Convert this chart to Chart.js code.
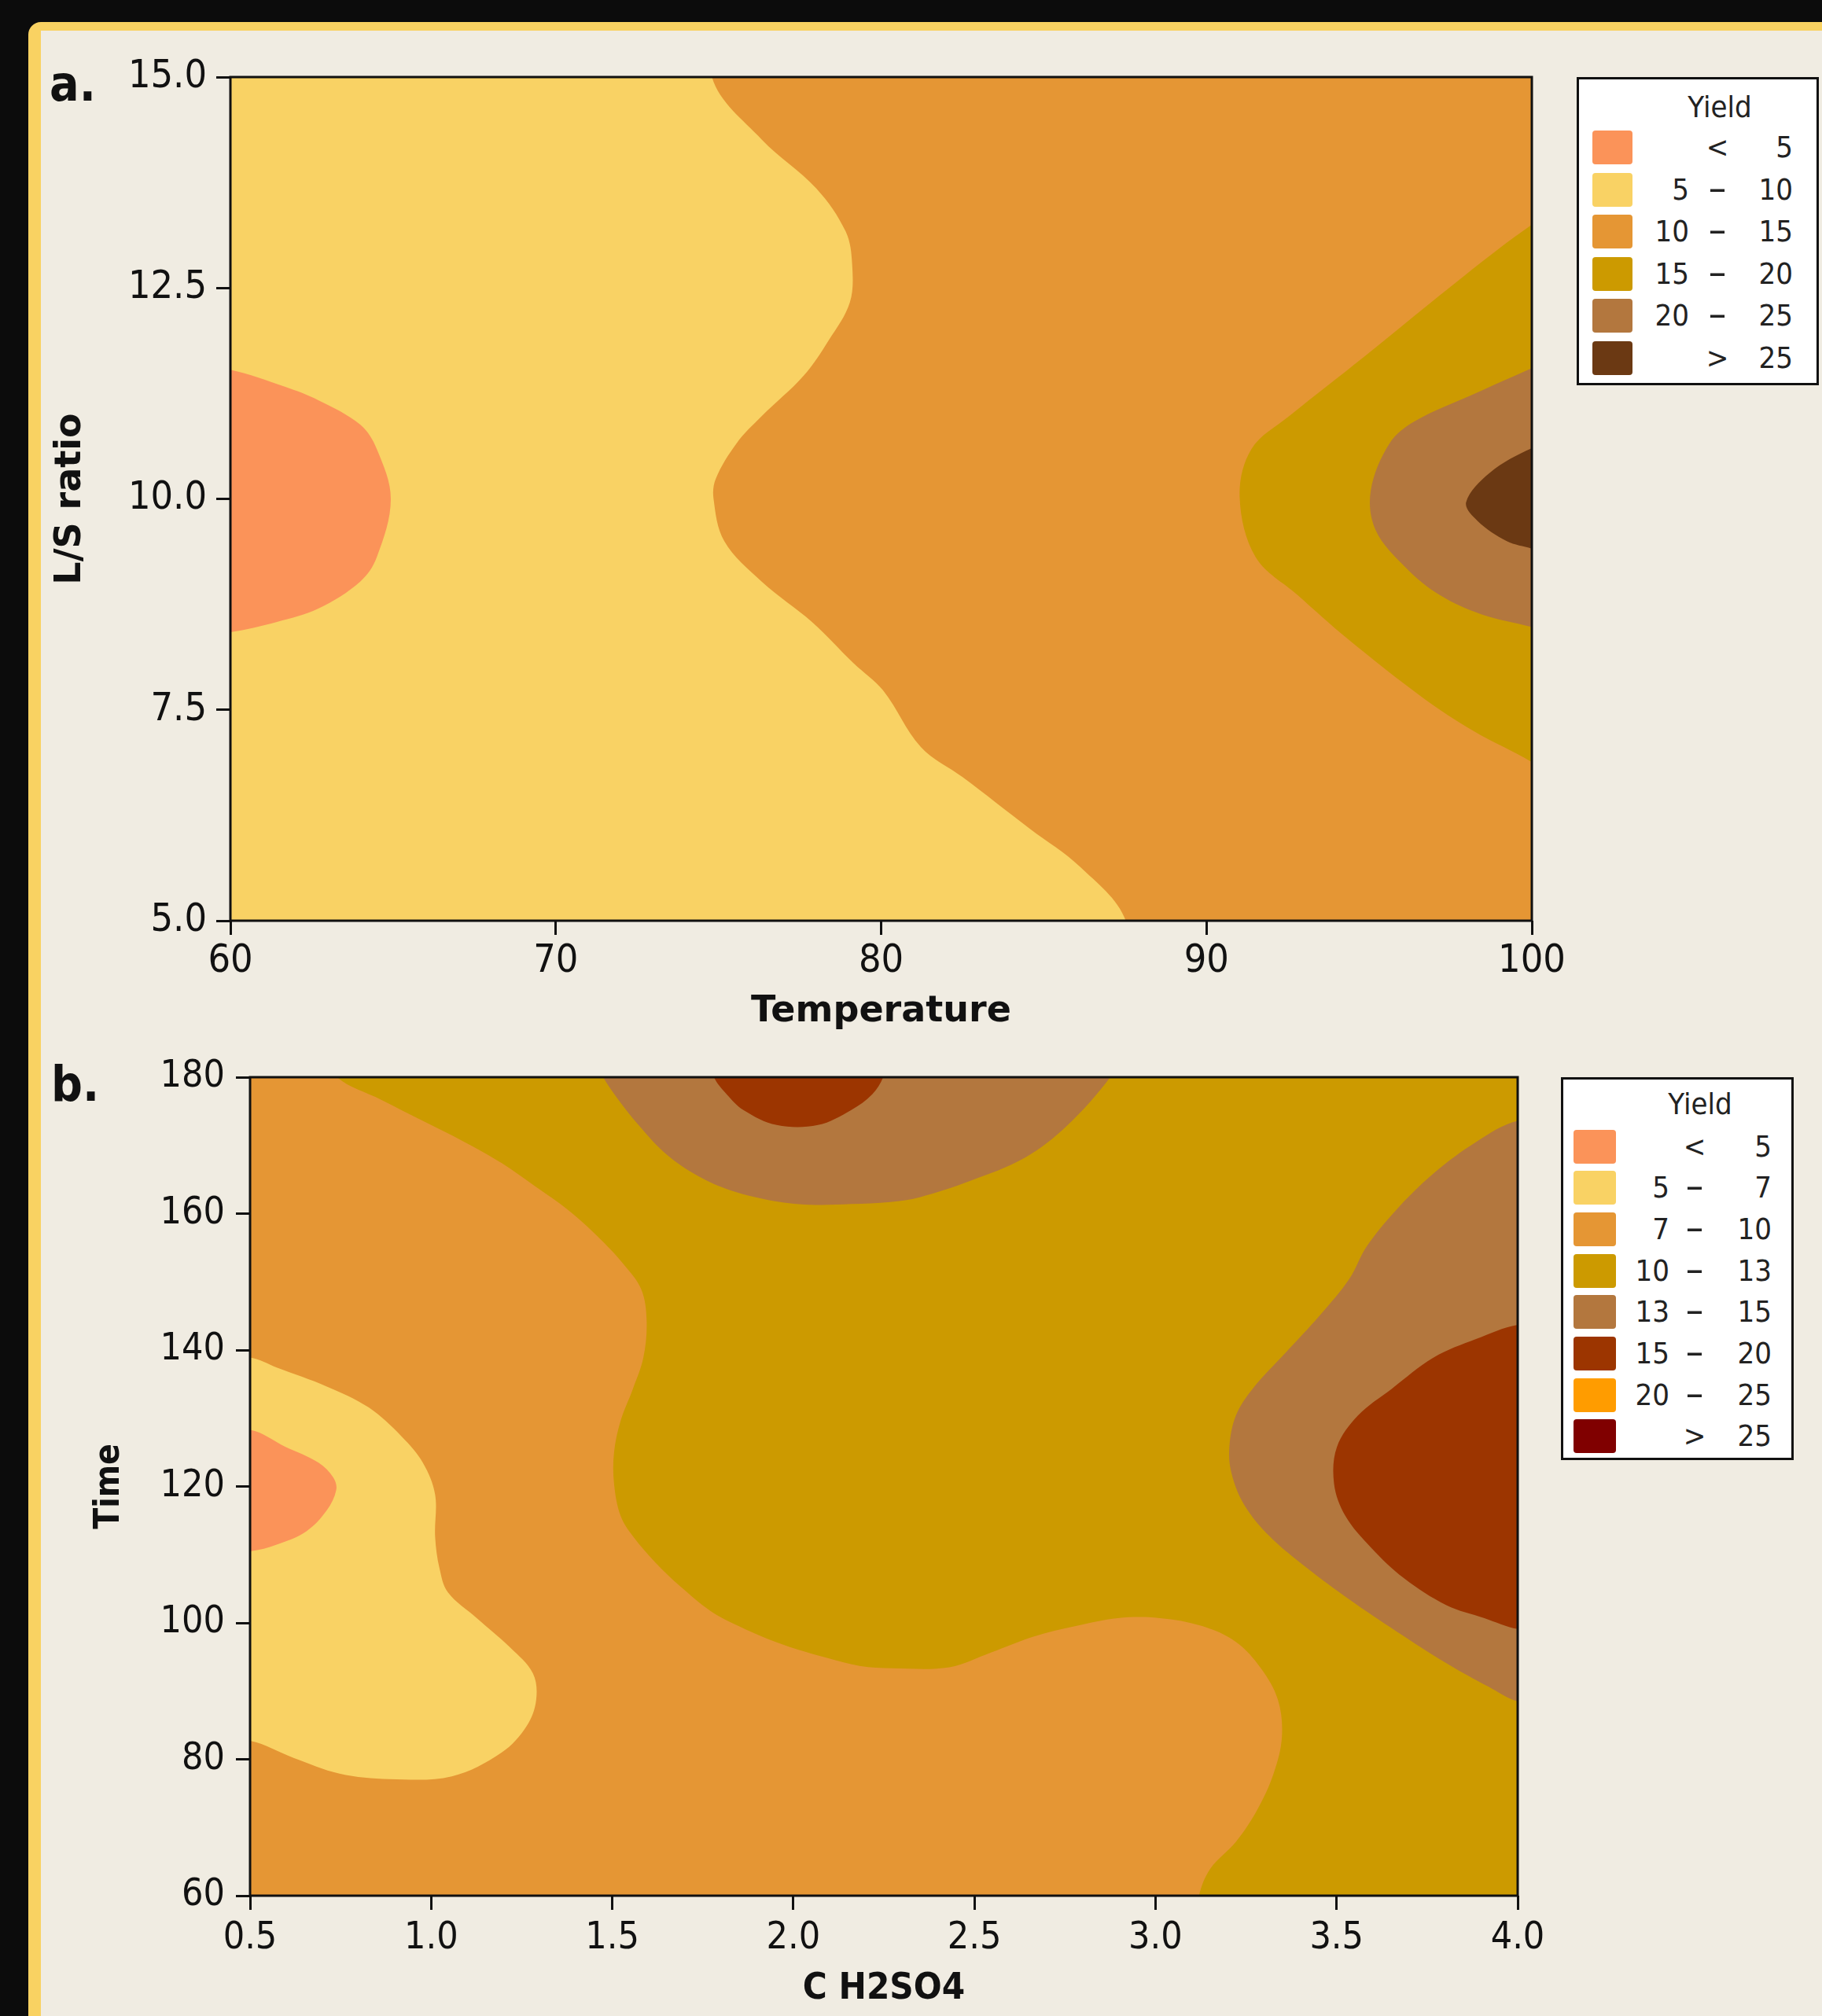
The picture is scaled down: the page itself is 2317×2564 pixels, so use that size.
<!DOCTYPE html>
<html>
<head>
<meta charset="utf-8">
<title>Yield contour plots</title>
<script src="https://cdn.jsdelivr.net/npm/chart.js@4.4.1/dist/chart.umd.min.js"></script>
<style>
  html, body { margin: 0; padding: 0; }
  body { width: 2317px; height: 2564px; background: #0c0c0c; overflow: hidden; position: relative;
         font-family: 'DejaVu Sans Condensed', 'DejaVu Sans', sans-serif; color: #1a1a1a; }
  #frame { position: absolute; left: 36px; top: 28px; width: 2400px; height: 2700px; background: #f0ece2;
           border-left: 16px solid #f9d262; border-top: 11px solid #f9d262; border-top-left-radius: 16px; }
  canvas { position: absolute; left: 0; }
  #chartA { top: 0; }
  #chartB { top: 1310px; }
  .panel { position: absolute; font-weight: bold; font-size: 62px; line-height: 1; color: #111; }
  .legend { position: absolute; box-sizing: border-box; border: 3px solid #111; background: #fff; }
  .legend .sw { position: absolute; border-radius: 4px; }
  .legend .tx { position: absolute; font-size: 38px; line-height: 43px; white-space: nowrap; color: #222; }
  .legend .dash { font-size: 50px; }
</style>
</head>
<body>
<div id="frame"></div>
<canvas id="chartA" width="2317" height="1330"></canvas>
<canvas id="chartB" width="2317" height="1254"></canvas>
<div class="panel" style="left:63px;top:76px">a.</div>
<div class="panel" style="left:65px;top:1348px">b.</div>
<div class="legend" id="legendA" style="left:2005px;top:98px;width:308px;height:392px"></div>
<div class="legend" id="legendB" style="left:1985px;top:1370px;width:296px;height:487px"></div>
<script>
// ---- plot a: Temperature vs L/S ratio ----
const tempTicks = [60, 70, 80, 90, 100];
const lsTicks = [5, 7.5, 10, 12.5, 15];
const lsTickLabels = ['5.0', '7.5', '10.0', '12.5', '15.0'];

// contour regions, [temperature, L/S] pairs (outside points get clipped)
const aYield10to15 = [[58, 4], [102, 4], [102, 16], [58, 16]];
const aYield5to10 = [[56, 16.5], [74.6, 16.5], [74.8, 15], [76.33, 14.26], [78.01, 13.68], [78.91, 13.17],
  [79.11, 12.78], [79.04, 12.33], [78.39, 11.88], [77.62, 11.46], [76.33, 10.98], [75.56, 10.66],
  [74.92, 10.24], [74.85, 10.0], [75.18, 9.5], [76.33, 9.02], [77.88, 8.54], [79.16, 8.05], [80.06, 7.73],
  [81.22, 7.06], [82.51, 6.7], [84.57, 6.09], [86.11, 5.64], [87.52, 5.0], [88.2, 3.5], [56, 3.5]];
const aYieldBelow5 = [[58.5, 11.6], [60, 11.53], [61.67, 11.33], [62.7, 11.17], [63.99, 10.88], [64.5, 10.59],
  [64.93, 10.0], [64.5, 9.31], [63.99, 9.02], [62.7, 8.7], [61.41, 8.54], [60, 8.42], [58.5, 8.35]];
const aYield15to20 = [[101.5, 13.6], [100, 13.25], [97.94, 12.65], [94.86, 11.69], [92.54, 10.98], [91.38, 10.59],
  [91.02, 10.02], [91.51, 9.31], [92.8, 8.86], [94.34, 8.34], [96.66, 7.64], [98.2, 7.25], [100, 6.88], [101.5, 6.5]];
const aYield20to25 = [[101.5, 11.8], [100, 11.55], [98.2, 11.24], [96.4, 10.92], [95.63, 10.66], [95.05, 10.1],
  [95.2, 9.63], [96.14, 9.18], [97.17, 8.86], [98.46, 8.63], [100, 8.48], [101.5, 8.3]];
const aYieldAbove25 = [[101.5, 10.8], [100, 10.6], [98.71, 10.31], [97.98, 9.96], [98.33, 9.74], [99.23, 9.5],
  [100, 9.41], [101.5, 9.2]];

// ---- plot b: C H2SO4 vs Time ----
const acidTicks = [0.5, 1.0, 1.5, 2.0, 2.5, 3.0, 3.5, 4.0];
const acidTickLabels = ['0.5', '1.0', '1.5', '2.0', '2.5', '3.0', '3.5', '4.0'];
const timeTicks = [60, 80, 100, 120, 140, 160, 180];

const bYield7to10 = [[0.3, 50], [4.2, 50], [4.2, 190], [0.3, 190]];
const bYield10to13 = [[0.68, 185], [0.74, 180], [0.862, 176.7], [0.977, 173.6], [1.092, 170.5], [1.195, 167.4],
  [1.287, 164.0], [1.379, 160.5], [1.459, 156.7], [1.528, 152.8], [1.58, 148.9], [1.595, 144.3], [1.586, 138.9],
  [1.557, 134.3], [1.523, 129.6], [1.505, 125.0], [1.505, 120.4], [1.523, 115.7], [1.557, 112.7], [1.62, 108.8],
  [1.689, 105.3], [1.77, 101.8], [1.85, 99.5], [1.931, 97.6], [2.011, 96.1], [2.091, 94.9], [2.183, 93.7],
  [2.275, 93.35], [2.431, 93.5], [2.547, 95.67], [2.663, 97.98], [2.78, 99.53], [2.896, 100.7], [3.012, 100.7],
  [3.129, 99.53], [3.222, 97.21], [3.291, 93.35], [3.338, 88.72], [3.349, 83.3], [3.326, 77.9], [3.28, 72.5],
  [3.222, 67.9], [3.152, 64.0], [3.12, 60], [3.11, 55], [4.3, 55], [4.3, 185]];
const bYield13to15Top = [[1.45, 183], [1.475, 180], [1.517, 176.7], [1.574, 172.9], [1.643, 169.0], [1.724, 165.9],
  [1.816, 163.6], [1.931, 162.0], [2.046, 161.3], [2.16, 161.4], [2.268, 161.7], [2.349, 162.4], [2.489, 164.8],
  [2.64, 168.2], [2.756, 172.9], [2.875, 180], [2.9, 183]];
const bYield15to20Top = [[1.77, 183], [1.781, 180], [1.816, 177.5], [1.862, 175.2], [1.954, 173.0], [2.068, 173.0],
  [2.16, 175.2], [2.218, 177.5], [2.248, 180], [2.26, 183]];
const bYield13to15Right = [[4.2, 174.5], [4.0, 173.6], [3.885, 170.5], [3.768, 165.9], [3.664, 160.5], [3.582, 155.1],
  [3.536, 150.5], [3.454, 145.1], [3.361, 139.7], [3.268, 134.3], [3.222, 130.4], [3.204, 125.8], [3.21, 121.9],
  [3.245, 117.3], [3.315, 112.7], [3.419, 108.0], [3.536, 103.4], [3.664, 98.8], [3.803, 94.1], [3.919, 90.65],
  [4.0, 88.5], [4.2, 87]];
const bYield15to20Right = [[4.2, 144.5], [4.0, 143.7], [3.885, 141.6], [3.768, 138.9], [3.652, 134.3], [3.559, 130.4],
  [3.501, 125.8], [3.493, 120.4], [3.524, 115.7], [3.594, 111.1], [3.687, 106.5], [3.803, 102.6], [3.908, 100.7],
  [4.0, 99.1], [4.2, 98]];
const bYield5to7 = [[0.3, 139.5], [0.5, 138.9], [0.575, 137.4], [0.712, 134.65], [0.827, 131.6], [0.919, 127.3],
  [0.977, 123.5], [1.011, 118.8], [1.011, 112.6], [1.023, 108.0], [1.046, 104.5], [1.126, 100.7], [1.218, 96.4],
  [1.281, 92.6], [1.29, 88.7], [1.264, 84.9], [1.195, 81.0], [1.057, 77.5], [0.885, 77.1], [0.747, 77.9],
  [0.62, 80.2], [0.5, 82.7], [0.3, 83.5]];
const bYieldBelow5 = [[0.3, 128.6], [0.5, 128.3], [0.598, 125.8], [0.689, 123.5], [0.73, 121.3], [0.738, 119.5],
  [0.712, 116.5], [0.655, 113.4], [0.575, 111.5], [0.5, 110.5], [0.3, 110]];

// legends
const aLegendLow = ['', '5', '10', '15', '20', ''];
const aLegendSep = ['<', '–', '–', '–', '–', '>'];
const aLegendHigh = ['5', '10', '15', '20', '25', '25'];
const bLegendLow = ['', '5', '7', '10', '13', '15', '20', ''];
const bLegendSep = ['<', '–', '–', '–', '–', '–', '–', '>'];
const bLegendHigh = ['5', '7', '10', '13', '15', '20', '25', '25'];

const palA = ['#fb9359', '#f9d264', '#e59634', '#cc9a00', '#b3773e', '#6b3913'];
const palB = ['#fb9359', '#f9d264', '#e59634', '#cc9a00', '#b3773e', '#9c3500', '#ff9c00', '#800000'];

const INK = '#111';
const COND = "'DejaVu Sans Condensed', 'DejaVu Sans', sans-serif";

// fills each dataset's own (bezier) path as a closed shape
const regionFill = {
  id: 'regionFill',
  afterDatasetDraw(chart, args) {
    const line = args.meta.dataset;
    if (!line) return;
    const { ctx, chartArea: a } = chart;
    line.updateControlPoints(a, 'x');
    ctx.save();
    ctx.beginPath();
    ctx.rect(a.left, a.top, a.width, a.height);
    ctx.clip();
    ctx.beginPath();
    line.path(ctx);
    ctx.closePath();
    ctx.fillStyle = chart.data.datasets[args.index].backgroundColor;
    ctx.fill();
    ctx.restore();
  }
};

const plotFrame = {
  id: 'plotFrame',
  afterDatasetsDraw(chart) {
    const { ctx, chartArea: a } = chart;
    ctx.save();
    ctx.strokeStyle = INK;
    ctx.lineWidth = 3;
    ctx.strokeRect(a.left, a.top, a.width, a.height);
    ctx.restore();
  }
};

function regionSets(regions, colors) {
  return regions.map((pts, i) => ({
    data: pts.map(p => ({ x: p[0], y: p[1] })),
    backgroundColor: colors[i],
    borderWidth: 0,
    pointRadius: 0,
    tension: 0.35,
    capBezierPoints: false,
    fill: false,
    order: -i
  }));
}

function axis(opts) {
  return {
    type: 'linear',
    min: opts.min,
    max: opts.max,
    afterBuildTicks: s => { s.ticks = opts.ticks.map(v => ({ value: v })); },
    afterFit: opts.fit,
    ticks: {
      autoSkip: false, maxRotation: 0, padding: opts.pad, color: INK,
      font: { family: COND, size: opts.size },
      callback: (v, i) => opts.labels ? opts.labels[i] : String(v)
    },
    grid: { display: true, drawOnChartArea: false, drawTicks: true, tickLength: 18, tickWidth: 3, tickColor: INK },
    border: { display: false },
    title: { display: true, text: opts.title, color: INK, padding: 0,
             font: { family: opts.titleFamily, size: opts.titleSize, weight: 'bold', lineHeight: 1.2 } }
  };
}

function baseOptions(padding, scales) {
  return {
    responsive: false,
    animation: false,
    events: [],
    layout: { padding },
    elements: { line: { capBezierPoints: false } },
    plugins: { legend: { display: false }, tooltip: { enabled: false } },
    scales
  };
}

new Chart(document.getElementById('chartA'), {
  type: 'line',
  data: {
    datasets: regionSets(
      [aYield10to15, aYield5to10, aYieldBelow5, aYield15to20, aYield20to25, aYieldAbove25],
      [palA[2], palA[1], palA[0], palA[3], palA[4], palA[5]])
  },
  options: baseOptions({ left: 62, top: 98, right: 369, bottom: 15 }, {
    x: axis({ min: 60, max: 100, ticks: tempTicks, size: 50, pad: 4, title: 'Temperature',
              titleFamily: "'DejaVu Sans', sans-serif", titleSize: 46, fit: s => { s.height = 144; } }),
    y: axis({ min: 5, max: 15, ticks: lsTicks, labels: lsTickLabels, size: 50, pad: 12, title: 'L/S ratio',
              titleFamily: "'DejaVu Sans', sans-serif", titleSize: 46, fit: s => { s.width = 231; } })
  }),
  plugins: [regionFill, plotFrame]
});

new Chart(document.getElementById('chartB'), {
  type: 'line',
  data: {
    datasets: regionSets(
      [bYield7to10, bYield10to13, bYield13to15Top, bYield15to20Top, bYield13to15Right, bYield15to20Right,
       bYield5to7, bYieldBelow5],
      [palB[2], palB[3], palB[4], palB[5], palB[4], palB[5], palB[1], palB[0]])
  },
  options: baseOptions({ left: 113, top: 60, right: 387, bottom: 6 }, {
    x: axis({ min: 0.5, max: 4.0, ticks: acidTicks, labels: acidTickLabels, size: 48, pad: 8, title: 'C H2SO4',
              titleFamily: COND, titleSize: 47, fit: s => { s.height = 147; } }),
    y: axis({ min: 60, max: 180, ticks: timeTicks, size: 48, pad: 14, title: 'Time',
              titleFamily: COND, titleSize: 44, fit: s => { s.width = 205; } })
  }),
  plugins: [regionFill, plotFrame]
});

// HTML legends
function cell(box, text, left, top, width, align, extra) {
  const d = document.createElement('div');
  d.className = 'tx' + (extra ? ' ' + extra : '');
  d.textContent = text;
  d.style.cssText = `left:${left}px;top:${top}px;width:${width}px;text-align:${align}`;
  box.appendChild(d);
}

function buildLegend(id, low, sep, high, colors, g) {
  const box = document.getElementById(id);
  cell(box, 'Yield', g.titleX - 100, g.titleTop, 200, 'center');
  low.forEach((lo, i) => {
    const top = g.rowTop + g.rowStep * i;
    const sw = document.createElement('div');
    sw.className = 'sw';
    sw.style.cssText = `left:${g.swLeft}px;top:${top}px;width:${g.swW}px;height:43px;background:${colors[i]}`;
    box.appendChild(sw);
    cell(box, lo, g.lowRight - 80, top, 80, 'right');
    cell(box, sep[i], g.sepX - 20, sep[i] === '–' ? top - 2 : top, 40, 'center', sep[i] === '–' ? 'dash' : '');
    cell(box, high[i], g.highRight - 80, top, 80, 'right');
  });
}

buildLegend('legendA', aLegendLow, aLegendSep, aLegendHigh, palA,
  { titleX: 179, titleTop: 14, rowTop: 65, rowStep: 53.6, swLeft: 17, swW: 51, lowRight: 140, sepX: 176, highRight: 272 });
buildLegend('legendB', bLegendLow, bLegendSep, bLegendHigh, palB,
  { titleX: 174, titleTop: 10, rowTop: 63.5, rowStep: 52.7, swLeft: 13, swW: 54, lowRight: 135, sepX: 167, highRight: 265 });
</script>
</body>
</html>
